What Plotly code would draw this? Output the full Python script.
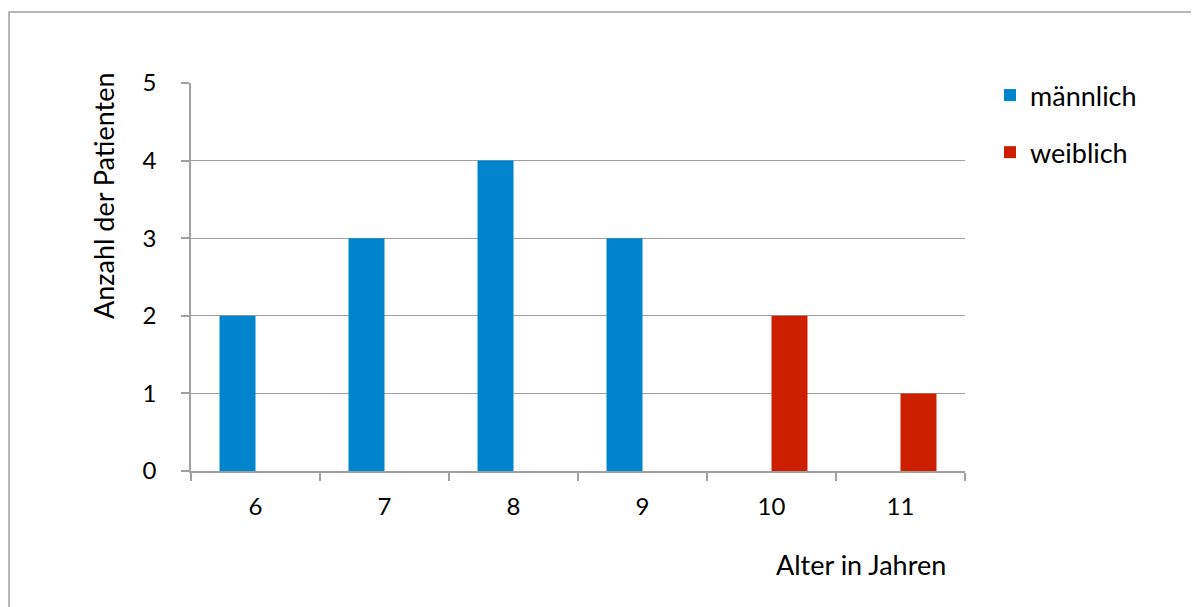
import plotly.graph_objects as go

ages = ["6", "7", "8", "9", "10", "11"]
maennlich = [2, 3, 4, 3, 0, 0]
weiblich = [0, 0, 0, 0, 2, 1]
y_ticks = [0, 1, 2, 3, 4, 5]

FONT = "Lato"
GRAY = "#a0a0a0"
OFF = 8  # page body offset

fig = go.Figure()
fig.add_trace(go.Bar(x=ages, y=maennlich, name="männlich", marker_color="#0084CE",
                     marker_line_width=0, legendgroup="m"))
fig.add_trace(go.Bar(x=ages, y=weiblich, name="weiblich", marker_color="#CD1F00",
                     marker_line_width=0, legendgroup="w"))

W, H = 1199, 607
L, T = 191 - OFF, 83 - OFF
PR, PB = 965 - OFF, 471 - OFF
R, B = W - PR, H - PB
pw, ph = PR - L, PB - T

def px(x):  # screen x -> paper
    return (x - OFF - L) / pw

def py(y):  # screen y -> paper
    return (PB - (y - OFF)) / ph

fig.update_layout(
    width=W, height=H,
    margin=dict(l=L, r=R, t=T, b=B),
    paper_bgcolor="white", plot_bgcolor="white",
    barmode="group", bargap=0.442, bargroupgap=0,
    font=dict(family=FONT, size=24, color="#000000"),
    showlegend=True,
    legend=dict(x=px(990), y=py(71), xanchor="left", yanchor="top",
                font=dict(family=FONT, size=27, color="#000"),
                tracegroupgap=19, itemwidth=30, bgcolor="rgba(0,0,0,0)"),
    xaxis=dict(type="category", categoryorder="array", categoryarray=ages,
               showline=True, linecolor=GRAY, linewidth=1.5,
               ticks="outside", ticklen=8, tickcolor=GRAY, tickwidth=1.5,
               tickson="boundaries", showgrid=False,
               tickfont=dict(family=FONT, size=24, color="#000"),
               ticklabelstandoff=13),
    yaxis=dict(range=[0, 5], tickvals=y_ticks, showline=True, linecolor=GRAY, linewidth=1.5,
               ticks="outside", ticklen=8, tickcolor=GRAY, tickwidth=1.5,
               showgrid=True, gridcolor=GRAY, gridwidth=1.2, zeroline=False,
               tickfont=dict(family=FONT, size=24, color="#000"),
               ticklabelstandoff=20),
    annotations=[
        dict(text="Alter in Jahren", xref="paper", yref="paper",
             x=px(948), y=py(564), xanchor="right", yanchor="middle",
             showarrow=False, font=dict(family=FONT, size=27, color="#000")),
        dict(text="Anzahl der Patienten", xref="paper", yref="paper",
             x=px(103), y=py(196), xanchor="center", yanchor="middle", textangle=-90,
             showarrow=False, font=dict(family=FONT, size=27, color="#000")),
    ],
    shapes=[
        dict(type="rect", xref="paper", yref="paper",
             x0=px(9), x1=px(1250), y0=py(660), y1=py(12),
             line=dict(color=GRAY, width=1.5), fillcolor="rgba(0,0,0,0)", layer="below"),
    ],
)

fig.write_html("out.html")
